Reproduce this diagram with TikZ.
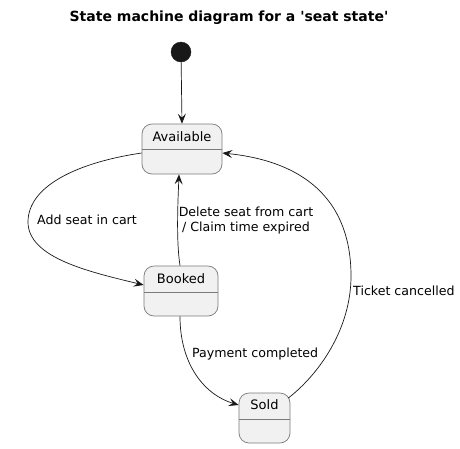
\documentclass[tikz,border=0pt]{standalone}
\usepackage{fontspec}
\setmainfont{DejaVu Sans}
\usetikzlibrary{arrows.meta}
\definecolor{stfill}{HTML}{F1F1F1}
\definecolor{stline}{HTML}{7A7A7A}
\definecolor{ln}{HTML}{181818}
\tikzset{
  stbox/.style={draw=stline, line width=0.7pt, fill=stfill, rounded corners=10pt, inner sep=0pt},
  stname/.style={font=\fontsize{13}{15}\selectfont, inner sep=0pt, anchor=center},
  lbl/.style={font=\fontsize{12.6}{15}\selectfont, inner sep=0pt, text=black},
  conn/.style={draw=ln, line width=0.7pt, -{Stealth[length=10pt,width=8pt,inset=4pt]}},
  initst/.style={circle, fill=ln, draw=ln, minimum size=20pt, inner sep=0pt}
}
\begin{document}
\begin{tikzpicture}[x=1pt,y=-1pt]
\useasboundingbox (0,0) rectangle (460,448);
\node[font=\bfseries\fontsize{14}{16}\selectfont] (title) at (229,18) {State machine diagram for a \textquotesingle seat state\textquotesingle};
\node[initst] (init) at (181,52) {};
% states
\node[stbox, minimum width=80pt, minimum height=50pt] (av) at (182,149) {};
\draw[stline, line width=0.7pt] (av.west |- 0,149.5) -- (av.east |- 0,149.5);
\node[stname] (avt) at (182,137) {Available};
\node[stbox, minimum width=74pt, minimum height=50pt] (bk) at (181,291) {};
\draw[stline, line width=0.7pt] (bk.west |- 0,292.5) -- (bk.east |- 0,292.5);
\node[stname] (bkt) at (181,279) {Booked};
\node[stbox, minimum width=51pt, minimum height=50pt] (sd) at (264.5,418) {};
\draw[stline, line width=0.7pt] (sd.west |- 0,419) -- (sd.east |- 0,419);
\node[stname] (sdt) at (264.5,405) {Sold};
% connectors
\draw[conn] (init) -- (av.north);
\draw[conn] ([yshift=-4pt]av.west) .. controls (80,162) and (28,185) .. (28,222)
  .. controls (28,258) and (90,272) .. ([yshift=6pt]bk.west);
\draw[conn] ([xshift=-1pt]bk.north) .. controls (176,240) and (178,200) .. ([xshift=-3pt]av.south);
\draw[conn] ([xshift=-1pt]bk.south) .. controls (180,365) and (205,395) .. ([yshift=13pt]sd.west);
\draw[conn] ([yshift=20pt,xshift=-2pt]sd.east) .. controls (318,375) and (351,330) .. (351,276)
  .. controls (351,205) and (310,162) .. ([yshift=-4pt]av.east);
% labels
\node[lbl, anchor=west] (l1) at (37,220) {Add seat in cart};
\node[lbl, align=center] (l2) at (246,220.5) {Delete seat from cart\\/ Claim time expired};
\node[lbl, anchor=west] (l3) at (192,354) {Payment completed};
\node[lbl, anchor=west] (l4) at (353,291) {Ticket cancelled};
\end{tikzpicture}
\end{document}
